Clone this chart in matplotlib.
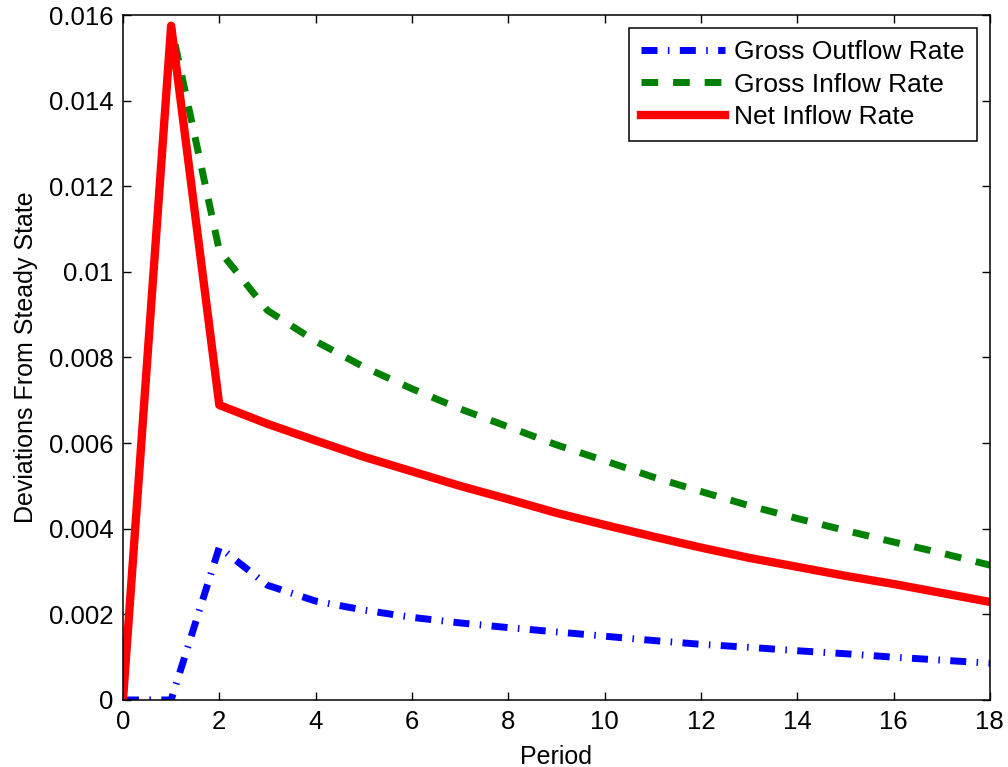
import numpy as np
import matplotlib
matplotlib.use("Agg")
import matplotlib.pyplot as plt

plt.rcParams['font.family'] = ['Liberation Sans', 'DejaVu Sans']

# ---------------------------------------------------------
# data (values x 1e-3)
# ---------------------------------------------------------
period = list(range(0, 19))
gross_outflow = [0, 0, 3.57, 2.68, 2.31, 2.10, 1.93, 1.80, 1.69, 1.59,
                 1.49, 1.39, 1.30, 1.23, 1.15, 1.08, 1.00, 0.93, 0.86]
gross_inflow = [0, 15.75, 10.5, 9.1, 8.38, 7.78, 7.27, 6.80, 6.38, 5.96,
                5.59, 5.21, 4.87, 4.54, 4.24, 3.96, 3.69, 3.43, 3.15]
net_inflow = [0, 15.75, 6.89, 6.45, 6.06, 5.68, 5.34, 5.00, 4.69, 4.37,
              4.09, 3.82, 3.56, 3.32, 3.11, 2.90, 2.71, 2.50, 2.29]
labels = ['Gross Outflow Rate', 'Gross Inflow Rate', 'Net Inflow Rate']

xticks = list(range(0, 19, 2))
yticks = [0, 0.002, 0.004, 0.006, 0.008, 0.01, 0.012, 0.014, 0.016]
yticklabels = ['0', '0.002', '0.004', '0.006', '0.008', '0.01', '0.012', '0.014', '0.016']

scale = 1e-3

# ---------------------------------------------------------
# figure
# ---------------------------------------------------------
fig = plt.figure(figsize=(10.08, 7.67), dpi=100)
ax = fig.add_axes([0.122, 0.0874, 0.86, 0.893])

ax.plot(period, np.array(gross_outflow) * scale, color=(0, 0, 1), lw=5,
        dashes=(2.3, 1.5, 0.22, 1.5), dash_capstyle='butt', label=labels[0])
ax.plot(period, np.array(gross_inflow) * scale, color=(0, 0.5, 0), lw=5,
        dashes=(2.4, 2.15), dash_capstyle='butt', label=labels[1])
ax.plot(period, np.array(net_inflow) * scale, color=(1, 0, 0), lw=6,
        solid_joinstyle='round', label=labels[2])

ax.set_xlim(0, 18)
ax.set_ylim(0, 0.016)
ax.set_xticks(xticks)
ax.set_yticks(yticks)
ax.set_yticklabels(yticklabels)

ax.tick_params(direction='in', length=6, width=1, top=True, right=True,
               labelsize=18.5, pad=7)
for s in ax.spines.values():
    s.set_linewidth(1.1)

ax.set_xlabel('Period', fontsize=18, labelpad=8)
ax.set_ylabel('Deviations From Steady State', fontsize=18, labelpad=8)

leg = ax.legend(loc='upper right', fontsize=19, handlelength=3.2,
                handletextpad=0.35, labelspacing=0.32, borderpad=0.45,
                borderaxespad=0.5, fancybox=False, framealpha=1)
leg.get_frame().set_edgecolor('black')
leg.get_frame().set_linewidth(1.1)

fig.savefig('out.png', dpi=100)
